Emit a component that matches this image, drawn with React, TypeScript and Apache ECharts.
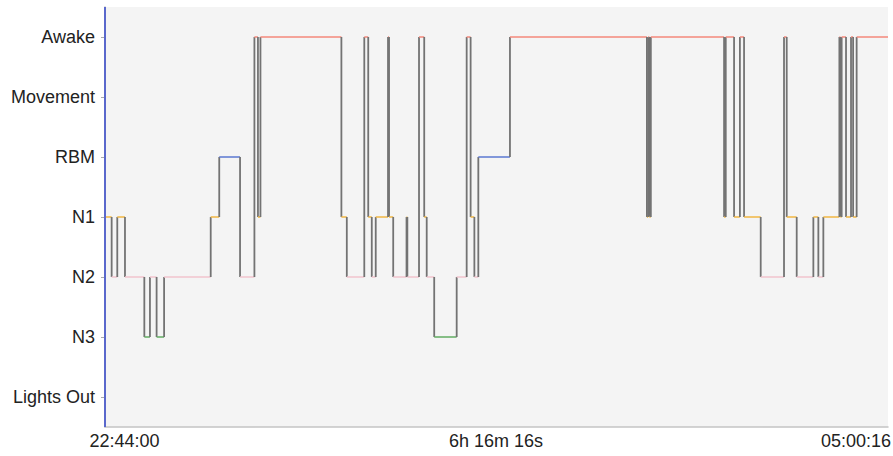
import React, { useEffect, useRef } from "react";
import * as echarts from "echarts";

// Y categories, bottom to top
const stageCategories = ["Lights Out", "N3", "N2", "N1", "RBM", "Movement", "Awake"];

// Stage changes: minutes after 22:44:00 and the stage entered
const epochStartMin = [
  0, 3.2, 5.9, 9.6, 18.9, 21.6, 24.8, 28.4, 50.8, 54.9,
  64.9, 71.8, 73.5, 74.7, 113.6, 116.2, 124.6, 126.5, 128.2, 130.1,
  136.0, 136.5, 138.5, 144.9, 145.3, 150.9, 153.4, 154.6, 158.2, 169.0,
  173.8, 175.7, 177.5, 179.4, 194.6, 260.4, 261.0, 261.6, 262.3, 297.5,
  298.3, 302.3, 305.1, 307.1, 315.1, 326.3, 327.6, 332.4, 340.4, 342.8,
  345.2, 352.9, 353.4, 354.0, 356.1, 358.5, 359.5, 361.2,
];
const epochStage = [
  "N1", "N2", "N1", "N2", "N3", "N2", "N3", "N2", "N1", "RBM",
  "N2", "Awake", "N1", "Awake", "N1", "N2", "Awake", "N1", "N2", "N1",
  "Awake", "N1", "N2", "N1", "N2", "Awake", "N1", "N2", "N3", "N2",
  "Awake", "N1", "N2", "RBM", "Awake", "N1", "Awake", "N1", "Awake", "N1",
  "Awake", "N1", "Awake", "N1", "N2", "Awake", "N1", "N2", "N1", "N2",
  "N1", "Awake", "N1", "Awake", "N1", "Awake", "N1", "Awake",
];
const totalMinutes = 376.27; // 6h 16m 16s
const xAxisLabels = ["22:44:00", "6h 16m 16s", "05:00:16"];

const stageColors: Record<string, string> = {
  Awake: "#f4897b",
  Movement: "#999999",
  RBM: "#5b78d2",
  N1: "#f2b743",
  N2: "#f2c4ce",
  N3: "#62ad62",
  "Lights Out": "#999999",
};

const FONT = '"Liberation Sans", Arial, Helvetica, sans-serif';

export default function App() {
  const ref = useRef<HTMLDivElement>(null);

  useEffect(() => {
    if (!ref.current) return;
    const chart = echarts.init(ref.current, undefined, { renderer: "svg" });

    const segData = epochStartMin.map((start, i) => {
      const end = i + 1 < epochStartMin.length ? epochStartMin[i + 1] : totalMinutes;
      const y = stageCategories.indexOf(epochStage[i]);
      const ny = i + 1 < epochStage.length ? stageCategories.indexOf(epochStage[i + 1]) : -1;
      return [start, end, y, ny];
    });

    chart.setOption({
      animation: false,
      backgroundColor: "#ffffff",
      grid: {
        left: 105,
        right: 5,
        top: 7,
        bottom: 29,
        show: true,
        backgroundColor: "#f4f4f4",
        borderWidth: 0,
      },
      xAxis: {
        type: "value",
        min: 0,
        max: totalMinutes,
        axisLine: { show: true, onZero: false, lineStyle: { color: "#c4c4c4", width: 1.5 } },
        axisTick: { show: false },
        axisLabel: { show: false },
        splitLine: { show: false },
      },
      yAxis: {
        type: "category",
        data: stageCategories,
        boundaryGap: true,
        offset: 2,
        axisLine: { show: true, lineStyle: { color: "#b8b8b8", width: 1.5 } },
        axisTick: { show: true, alignWithLabel: true, length: 4, lineStyle: { color: "#aaaaaa" } },
        axisLabel: { color: "#222222", fontSize: 18, fontFamily: FONT, margin: 8 },
        splitLine: { show: false },
      },
      graphic: [
        {
          type: "text",
          style: { text: xAxisLabels[0], x: 124.5, y: 441, textAlign: "center", textVerticalAlign: "middle", font: `18px ${FONT}`, fill: "#222222" },
        },
        {
          type: "text",
          style: { text: xAxisLabels[1], x: 496, y: 441, textAlign: "center", textVerticalAlign: "middle", font: `18px ${FONT}`, fill: "#222222" },
        },
        {
          type: "text",
          style: { text: xAxisLabels[2], x: 891, y: 441, textAlign: "right", textVerticalAlign: "middle", font: `18px ${FONT}`, fill: "#222222" },
        },
      ],
      series: [
        {
          type: "custom",
          coordinateSystem: "cartesian2d",
          encode: { x: [0, 1], y: [2] },
          data: segData,
          renderItem: (params: any, api: any) => {
            const s = api.value(0);
            const e = api.value(1);
            const y = api.value(2);
            const ny = api.value(3);
            const p0 = api.coord([s, y]);
            const p1 = api.coord([e, y]);
            const children: any[] = [
              {
                type: "line",
                shape: { x1: p0[0], y1: p0[1], x2: p1[0], y2: p1[1] },
                style: { stroke: stageColors[stageCategories[y]], lineWidth: 1.5 },
              },
            ];
            if (ny >= 0) {
              const p2 = api.coord([e, ny]);
              children.push({
                type: "line",
                shape: { x1: p1[0], y1: p1[1], x2: p2[0], y2: p2[1] },
                style: { stroke: "#737373", lineWidth: 1.8 },
              });
            }
            return { type: "group", children };
          },
        },
        {
          type: "line",
          data: [],
          showSymbol: false,
          markLine: {
            silent: true,
            symbol: "none",
            label: { show: false },
            lineStyle: { color: "#5a68cc", width: 2, type: "solid" },
            data: [{ xAxis: 0 }],
          },
        },
      ],
    });

    return () => chart.dispose();
  }, []);

  return (
    <div
      ref={ref}
      style={{ position: "fixed", left: 0, top: 0, width: 893, height: 456 }}
    />
  );
}
